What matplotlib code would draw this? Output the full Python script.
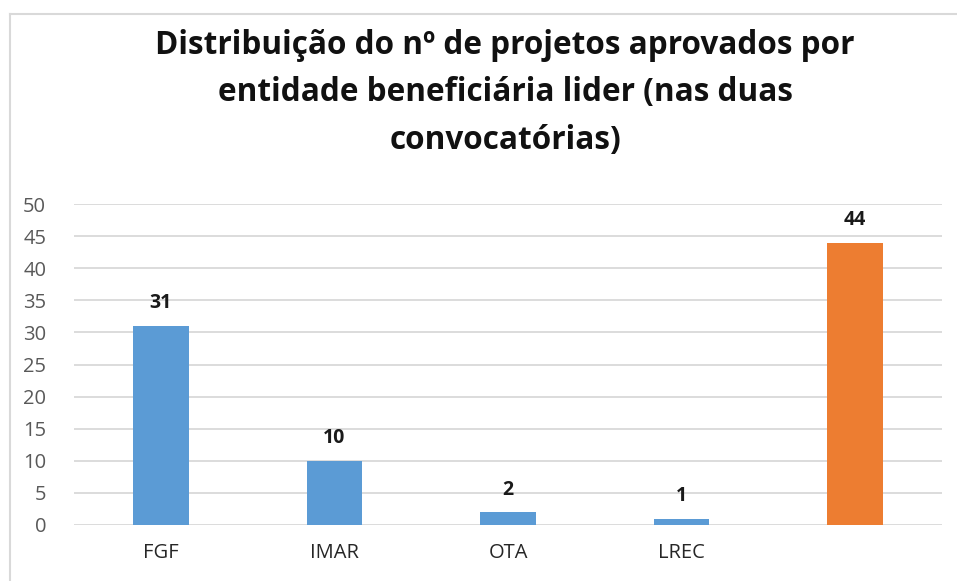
import matplotlib
matplotlib.use("Agg")
import matplotlib.pyplot as plt
from matplotlib.lines import Line2D

categories = ["FGF", "IMAR", "OTA", "LREC", ""]
values = [31, 10, 2, 1, 44]
bar_colors = ["#5B9BD5", "#5B9BD5", "#5B9BD5", "#5B9BD5", "#ED7D31"]
yticks = [0, 5, 10, 15, 20, 25, 30, 35, 40, 45, 50]
title = "Distribuição do nº de projetos aprovados por\nentidade beneficiária lider (nas duas\nconvocatórias)"

plt.rcParams['font.family'] = ['Open Sans', 'DejaVu Sans']

W, H = 957, 581
fig = plt.figure(figsize=(W/100, H/100), dpi=100)
fig.patch.set_facecolor("white")

ax = fig.add_axes([74/W, 1-525/H, (942-74)/W, (525-204)/H])
x = list(range(len(categories)))
ax.bar(x, values, width=0.32, color=bar_colors, zorder=3)
ax.set_xlim(-0.5, len(categories)-0.5)
ax.set_ylim(0, 50)
ax.set_yticks(yticks)
ax.set_xticks(x)
ax.set_xticklabels(categories)
for s in ax.spines.values():
    s.set_visible(False)
ax.grid(axis="y", color="#D9D9D9", linewidth=1.3, zorder=0)
ax.tick_params(axis="both", length=0, labelsize=14.5, colors="#595959")
ax.tick_params(axis="x", pad=13, labelcolor="#262626")
ax.tick_params(axis="y", pad=20)
for xi, v in zip(x, values):
    ax.annotate(str(v), (xi, v), xytext=(0, 9), textcoords="offset points",
                ha="center", va="bottom", fontsize=14, fontweight="bold", color="#1a1a1a")

fig.text(505/W, 1-93/H, title, ha="center", va="center", fontsize=22.7,
         fontweight="bold", color="#111111", linespacing=1.6)

# chart border (top and left visible)
fig.add_artist(Line2D([10/W, 1], [1-14/H, 1-14/H], color="#D9D9D9", lw=1.5, transform=fig.transFigure))
fig.add_artist(Line2D([10/W, 10/W], [0, 1-14/H], color="#D9D9D9", lw=1.5, transform=fig.transFigure))

fig.savefig("out.png", dpi=100, facecolor="white")
